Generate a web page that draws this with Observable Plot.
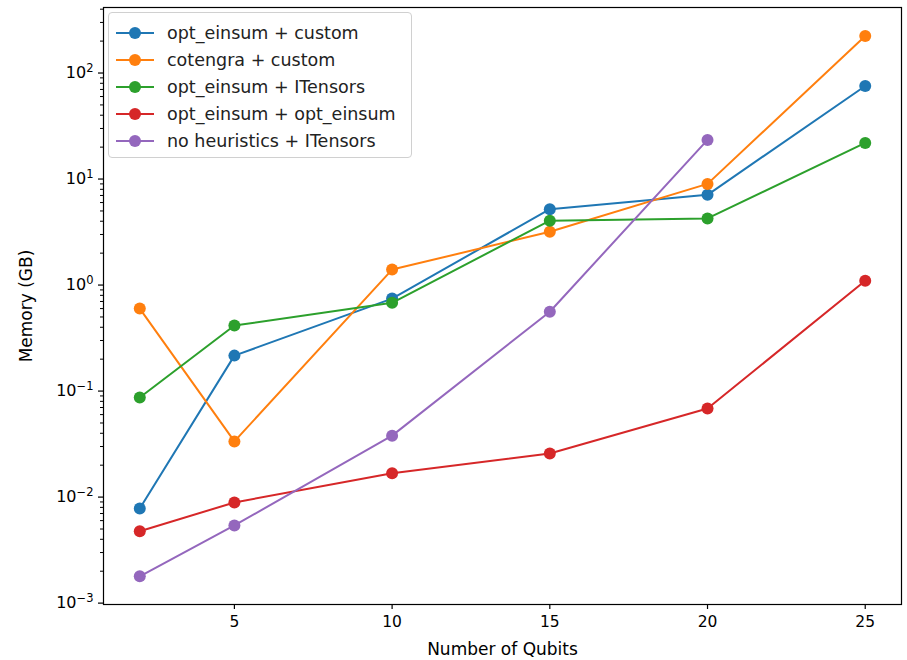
<!DOCTYPE html>
<html>
<head>
<meta charset="utf-8">
<script src="https://cdn.jsdelivr.net/npm/d3@7"></script>
<script src="https://cdn.jsdelivr.net/npm/@observablehq/plot@0.6"></script>
<style>
  body { margin: 0; background: #fff; font-family: "DejaVu Sans", sans-serif; }
  #wrap { position: relative; width: 907px; height: 660px; }
  #legend { position: absolute; left: 108px; top: 12px; width: 304px; height: 146px;
    border: 1px solid #d0d0d0; border-radius: 4px; background: rgba(255,255,255,0.85);
    font-family: "DejaVu Sans", sans-serif; font-size: 17.5px; color: #222; box-sizing: border-box; padding-top: 6px; }
  .entry { display: flex; align-items: center; height: 27px; white-space: nowrap; }
  .entry svg { margin-left: 6px; margin-right: 12px; flex: none; }
</style>
</head>
<body>
<div id="wrap"><div id="legend"></div></div>
<script>
const qubits = [2, 5, 10, 15, 20, 25];
const seriesNames = ["opt_einsum + custom", "cotengra + custom", "opt_einsum + ITensors", "opt_einsum + opt_einsum", "no heuristics + ITensors"];
const seriesColors = ["#1f77b4", "#ff7f0e", "#2ca02c", "#d62728", "#9467bd"];
const optEinsumCustom   = [0.0078, 0.216, 0.745, 5.2, 7.1, 75.5];
const cotengraCustom    = [0.60, 0.0335, 1.40, 3.18, 9.0, 223];
const optEinsumITensors = [0.087, 0.415, 0.68, 4.05, 4.25, 21.9];
const optEinsumOptEinsum= [0.00477, 0.0089, 0.0168, 0.0258, 0.0685, 1.1];
const noHeurITensors    = [0.00179, 0.0054, 0.038, 0.56, 23.4];
const seriesValues = [optEinsumCustom, cotengraCustom, optEinsumITensors, optEinsumOptEinsum, noHeurITensors];
const xTicks = [5, 10, 15, 20, 25];
const yMajor = [1e-3, 1e-2, 1e-1, 1, 10, 100];
const yExponents = ["−3", "−2", "−1", "0", "1", "2"];
const yMinor = yMajor.flatMap(p => d3.range(2, 10).map(k => k * p)).filter(v => v < 410);

const marks = [];
seriesNames.forEach((name, i) => {
  const data = seriesValues[i].map((v, j) => ({q: qubits[j], v}));
  marks.push(Plot.line(data, {x: "q", y: "v", stroke: seriesColors[i], strokeWidth: 2}));
  marks.push(Plot.dot(data, {x: "q", y: "v", fill: seriesColors[i], r: 6}));
});

const chart = Plot.plot({
  width: 907, height: 660,
  marginLeft: 103, marginRight: 6, marginTop: 7, marginBottom: 56,
  style: {fontFamily: "DejaVu Sans, sans-serif", fontSize: "15px", color: "#000", background: "#fff"},
  x: {domain: [0.85, 26.15]},
  y: {type: "log", domain: [Math.pow(10, -3.013), Math.pow(10, 2.618)]},
  marks: [
    Plot.axisX(xTicks, {tickSize: 5, tickPadding: 6, strokeWidth: 1.2, fontSize: 15.5, label: null}),
    Plot.axisX({ticks: [], label: "Number of Qubits", labelArrow: "none", labelAnchor: "center", labelOffset: 50, fontSize: 17}),
    Plot.axisY(yMinor, {tickSize: 3, tickFormat: () => "", label: null, strokeWidth: 1}),
    Plot.axisY(yMajor, {tickSize: 5, tickPadding: 5, strokeWidth: 1.2, fontSize: 16, tickFormat: d => "10^" + yExponents[yMajor.indexOf(d)], label: null}),
    Plot.axisY({ticks: [], label: "Memory (GB)", labelArrow: "none", labelAnchor: "center", labelOffset: 84, fontSize: 17}),
    ...marks,
    Plot.frame({stroke: "#000", strokeWidth: 1.2})
  ]
});
document.getElementById("wrap").prepend(chart);

// render exponents as superscripts
chart.querySelectorAll("text").forEach(t => {
  const s = t.textContent;
  if (s.startsWith("10^")) {
    const exp = s.slice(3);
    t.textContent = "";
    const base = document.createElementNS("http://www.w3.org/2000/svg", "tspan");
    base.textContent = "10";
    const sup = document.createElementNS("http://www.w3.org/2000/svg", "tspan");
    sup.textContent = exp;
    sup.setAttribute("font-size", "11.5");
    sup.setAttribute("dy", "-0.5em");
    t.appendChild(base);
    t.appendChild(sup);
  }
});

const legend = document.getElementById("legend");
seriesNames.forEach((name, i) => {
  const e = document.createElement("div");
  e.className = "entry";
  e.innerHTML = `<svg width="40" height="14"><line x1="1" y1="7" x2="39" y2="7" stroke="${seriesColors[i]}" stroke-width="2"/><circle cx="20" cy="7" r="6" fill="${seriesColors[i]}"/></svg><span>${name}</span>`;
  legend.appendChild(e);
});
</script>
</body>
</html>
